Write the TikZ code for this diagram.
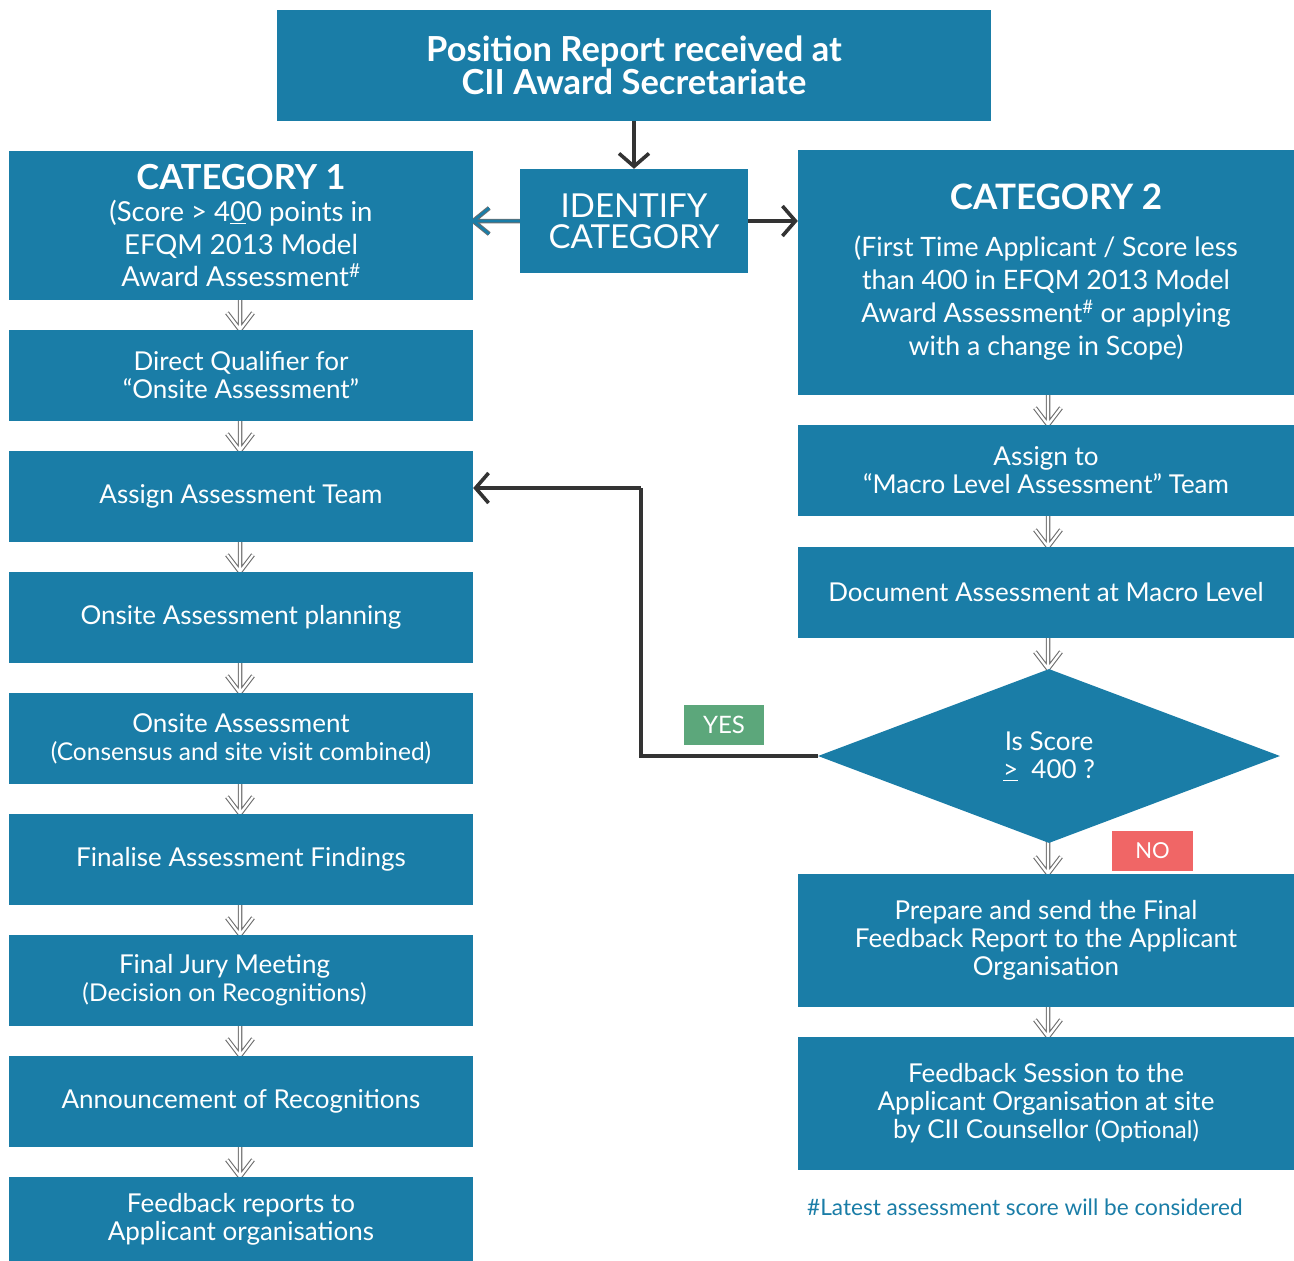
\documentclass[tikz,border=0pt]{standalone}
\usepackage{fontspec}
\setmainfont{Lato}
\usetikzlibrary{arrows.meta,shapes.geometric,backgrounds}
\definecolor{boxblue}{HTML}{1A7DA7}
\definecolor{darkline}{HTML}{333333}
\definecolor{hgray}{HTML}{6E6E6E}
\definecolor{yesgreen}{HTML}{5CA77B}
\definecolor{nored}{HTML}{F06666}
\newcommand{\fs}[2]{\fontsize{#1}{#2}\selectfont}
\begin{document}
\begin{tikzpicture}[x=1pt,y=-1pt,
  box/.style={fill=boxblue, text=white, align=center, inner sep=0pt, font=\fs{26}{28}},
  lbox/.style={box, minimum width=464, minimum height=91},
  rbox/.style={box, minimum width=496, minimum height=91},
  hollowout/.style={draw=hgray, line width=4.5pt, line join=miter},
  hollowin/.style={draw=white, line width=2.3pt, line join=miter},
  bluein/.style={draw=boxblue, line width=2.6pt, line join=miter},
  darkarrow/.style={draw=darkline, line width=3.6pt, -{Straight Barb[length=13pt,width=30pt,line width=3.6pt]}},
  tag/.style={text=white, inner sep=0pt, minimum height=40, font=\fs{24}{26}}
]
\useasboundingbox (0,0) rectangle (1294,1261);

% top
\node[box, minimum width=714, minimum height=111, font=\bfseries\fs{34.5}{33}] (top) at (634,65.5)
  {Position Report received at\\CII Award Secretariate};
\node[box, minimum width=228, minimum height=104, font=\fs{33}{31}] (ident) at (634,221)
  {IDENTIFY\\CATEGORY};

% left column
\node[lbox, minimum height=149, font=\fs{27.5}{32.5}] (cat1) at (241,225.5)
  {{\bfseries\fs{34.5}{33}CATEGORY 1}\\(Score > 4\underline{0}0 points in\\EFQM 2013 Model\\Award Assessment\textsuperscript{\#}};
\node[lbox] (dq) at (241,375.5) {Direct Qualifier for\\“Onsite Assessment”};
\node[lbox] (aat) at (241,496.5) {Assign Assessment Team};
\node[lbox] (oap) at (241,617.5) {Onsite Assessment planning};
\node[lbox] (oa) at (241,738.5) {Onsite Assessment\\{\fs{24.5}{26}(Consensus and site visit combined)}};
\node[lbox] (faf) at (241,859.5) {Finalise Assessment Findings};
\node[lbox] (fjm) at (241,980.5) {\hspace*{-33pt}Final Jury Meeting\\\hspace*{-33pt}{\fs{24.5}{26}(Decision on Recognitions)}};
\node[lbox] (aor) at (241,1101.5) {Announcement of Recognitions};
\node[lbox, minimum height=84] (frt) at (241,1219) {Feedback reports to\\Applicant organisations};

% right column
\node[rbox, minimum height=245, font=\fs{26.7}{33}] (cat2) at (1046,272.5)
  {\hspace*{20pt}{\bfseries\fs{35}{33}CATEGORY 2}\\[14pt](First Time Applicant / Score less\\than 400 in EFQM 2013 Model\\Award Assessment\textsuperscript{\#} or applying\\with a change in Scope)};
\node[rbox] (macro) at (1046,470.5) {Assign to\\“Macro Level Assessment” Team};
\node[rbox] (doc) at (1046,592.5) {Document Assessment at Macro Level};
\node[diamond, fill=boxblue, text=white, inner sep=0pt, minimum width=462, minimum height=174,
  align=center, font=\fs{26}{28}] (dia) at (1049,756) {Is Score\\\underline{>}~~400 ?};
\node[rbox, minimum height=133] (prep) at (1046,940.5)
  {Prepare and send the Final\\Feedback Report to the Applicant\\Organisation};
\node[rbox, minimum height=133] (fsess) at (1046,1103.5)
  {Feedback Session to the\\Applicant Organisation at site\\by CII Counsellor {\fs{24}{28}(Optional)}};

% tags
\node[tag, fill=yesgreen, minimum width=80] (yes) at (724,725) {YES};
\node[tag, fill=nored, minimum width=81, font=\fs{22}{26}] (no) at (1152.5,851) {NO};

% footnote
\node[anchor=west, inner sep=0pt, text=boxblue, font=\fs{22.6}{24}] (note) at (807,1207)
  {\#Latest assessment score will be considered};

% connectors
\draw[darkarrow] (top.south) -- (ident.north);
\draw[darkarrow] (ident.east) -- (cat2.west |- ident.east);
\coordinate (bend) at (641,488);
\draw[draw=darkline, line width=3.6pt, line join=miter] (dia.west) -| (bend);
\draw[darkarrow] (bend) -- (aat.east |- bend);

\begin{scope}[on background layer]
  % blue hollow arrow to Category 1
  \foreach \st in {hollowout,bluein}{
    \draw[\st] (ident.west) -- (cat1.east |- ident.west)
      (cat1.east |- ident.west) ++(16,-13) -- (cat1.east |- ident.west) -- ++(16,13);
  }
  % hollow arrows
  \foreach \a/\b/\x in {cat1/dq/240, dq/aat/240, aat/oap/240, oap/oa/240, oa/faf/240, faf/fjm/240, fjm/aor/240, aor/frt/240,
      cat2/macro/1048, macro/doc/1048, doc/dia/1048, dia/prep/1048, prep/fsess/1048}{
    \foreach \st in {hollowout,hollowin}{
      \draw[\st] (\x,0 |- \a.south) ++(0,-4) -- (\x,0 |- \b.north) coordinate (tip)
        (tip) ++(-13,-17) -- (tip) -- ++(13,-17);
    }
  }
\end{scope}
\end{tikzpicture}
\end{document}
